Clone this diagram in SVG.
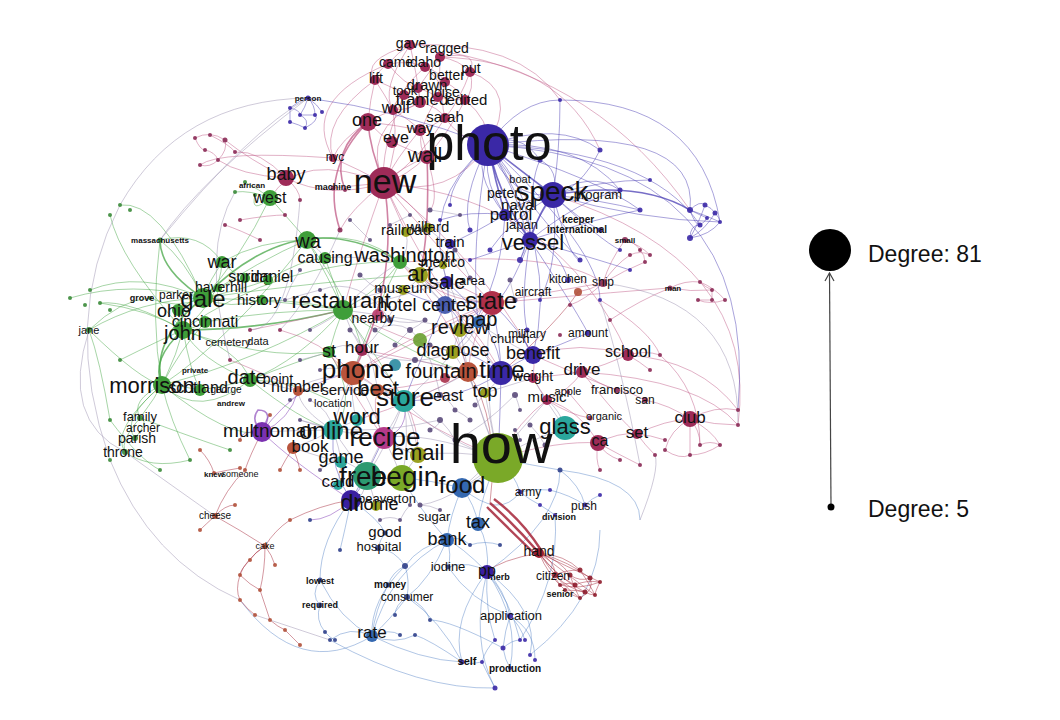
<svg xmlns="http://www.w3.org/2000/svg" width="1060" height="720" viewBox="0 0 1060 720">
<defs>
<style>
.e path{fill:none;stroke-width:.8;stroke-opacity:.6}
.eg{stroke:#46a646}.ep{stroke:#c05a86}.eb{stroke:#4a3db4}.es{stroke:#5b86c8}.er{stroke:#a52538}.ex{stroke:#9a8fae}.ev{stroke:#7b31b0}
.e path.w{stroke-width:1.6;stroke-opacity:.75}
.e path.thick{stroke-width:2.4;stroke-opacity:.85}
.cP{fill:#9e2b58}.cB{fill:#3a28a6}.cG{fill:#3f9e3a}.cL{fill:#7aa928}.cT{fill:#2aa69c}.cO{fill:#b8543c}.cS{fill:#3468b0}.cV{fill:#7b31b0}.cR{fill:#9c1f30}.cY{fill:#9aa020}.cM{fill:#b43a8a}.cF{fill:#2c9a70}.cD{fill:#3a1fa0}
text{font-family:"Liberation Sans",Arial,sans-serif;fill:#111;text-anchor:middle}
.mn circle{opacity:.9}
.tl{font-weight:bold;fill:#222}
</style>
</defs>
<rect width="1060" height="720" fill="#ffffff"/>
<g id="connectors" class="e">
<g class="eg">
<path class="w" d="M203 298Q150 340 162 385"/><path class="w" d="M183 330Q150 360 162 385"/><path class="w" d="M203 298Q160 270 160 240"/><path class="w" d="M183 330Q260 330 343 310"/><path class="w" d="M203 298Q300 200 400 262"/>
<path d="M203 298Q140 300 89 330"/><path d="M183 330Q170 380 140 418"/><path d="M162 385Q130 400 140 418"/><path d="M162 385Q120 420 135 438"/><path d="M162 385Q110 430 125 452"/><path d="M162 385Q200 420 250 380"/><path d="M203 298Q240 260 270 198"/><path d="M203 298Q260 260 307 240"/><path d="M203 298Q230 280 245 278"/><path d="M203 298Q240 290 268 280"/><path d="M203 298Q230 310 262 300"/><path d="M203 298Q210 280 222 262"/><path d="M183 330Q220 300 222 262"/><path d="M183 330Q240 350 250 380"/><path d="M203 298Q280 300 343 310"/><path d="M205 322Q270 310 343 310"/><path d="M162 385Q260 360 343 310"/><path d="M250 380Q300 360 343 310"/><path d="M222 262Q260 240 307 240"/><path d="M222 262Q200 230 160 240"/><path d="M89 330Q120 300 150 298"/><path d="M89 330Q140 380 162 385"/><path d="M70 298Q130 280 203 298"/><path d="M90 290Q140 270 203 298"/><path d="M100 303Q150 310 183 330"/><path d="M125 452Q150 470 190 460"/><path d="M140 418Q200 440 230 450"/><path d="M162 385Q230 340 307 240"/><path d="M183 330Q280 260 400 262"/><path d="M203 298Q330 280 420 275"/><path d="M150 298Q175 310 203 298"/><path d="M120 360Q160 340 183 330"/><path d="M110 420Q140 460 160 470"/><path d="M140 418Q120 440 125 452"/><path d="M135 438Q150 420 140 418"/><path d="M89 330Q100 360 110 420"/><path d="M162 385Q150 320 160 240"/><path d="M307 240Q330 280 343 310"/><path d="M307 240Q360 230 400 262"/><path d="M400 262Q380 290 343 310"/><path d="M250 380Q290 380 330 400"/><path d="M250 380Q300 420 333 430"/><path d="M178 310Q190 300 203 298"/><path d="M205 322Q190 330 183 330"/><path d="M200 390Q180 385 162 385"/><path d="M200 390Q230 385 250 380"/><path d="M183 330Q190 370 200 390"/><path d="M270 198Q250 190 235 192"/><path d="M270 198Q250 215 255 195"/><path d="M270 198Q285 215 307 240"/><path d="M245 182Q260 190 270 198"/><path d="M222 262Q235 275 245 278"/><path d="M245 278Q258 285 268 280"/><path d="M262 300Q300 300 343 310"/><path d="M268 280Q300 260 325 258"/><path d="M325 258Q335 285 343 310"/><path d="M329 352Q335 330 343 310"/><path d="M329 352Q300 360 250 380"/><path d="M183 330Q260 360 329 352"/><path d="M162 385Q230 440 262 432"/><path d="M203 298Q160 200 120 205"/><path d="M183 330Q120 260 110 215"/><path d="M218 288Q210 292 203 298"/><path d="M162 385Q170 420 190 460"/><path d="M183 330Q130 300 100 303"/><path d="M203 298Q185 260 160 240"/><path d="M162 385Q180 350 205 322"/><path d="M183 330Q200 360 250 380"/>
<path d="M343 310Q380 360 404 401"/><path d="M400 262Q370 320 353 373"/><path d="M329 352Q360 400 333 430"/><path d="M307 240Q350 300 362 350"/><path d="M343 310Q420 360 468 372"/>
</g>
<g class="ep">
<path class="w" d="M368 122Q330 150 345 190"/><path class="w" d="M368 122Q320 170 340 230"/><path class="w" d="M427 157Q430 230 420 275"/><path class="w" d="M384 183Q400 280 353 373"/><path class="w" d="M368 122Q370 150 384 183"/>
<path d="M410 45Q428 40 440 57"/><path d="M410 45Q398 52 388 64"/><path d="M410 45Q418 80 420 102"/><path d="M440 57Q460 60 470 72"/><path d="M440 57Q440 80 438 97"/><path d="M388 64Q378 70 375 80"/><path d="M388 64Q410 60 425 67"/><path d="M425 67Q440 72 445 82"/><path d="M375 80Q385 95 393 110"/><path d="M375 80Q400 90 420 102"/><path d="M445 82Q460 90 465 100"/><path d="M470 72Q475 90 465 100"/><path d="M418 88Q410 92 404 95"/><path d="M418 88Q430 92 438 97"/><path d="M404 95Q395 100 393 110"/><path d="M420 102Q440 108 445 118"/><path d="M393 110Q380 115 368 122"/><path d="M368 122Q380 135 392 142"/><path d="M368 122Q395 125 420 130"/><path d="M420 130Q425 145 427 157"/><path d="M392 142Q410 150 427 157"/><path d="M427 157Q400 168 384 183"/><path d="M445 118Q460 140 488 145"/><path d="M465 100Q490 120 488 145"/><path d="M470 72Q520 90 488 145"/><path d="M410 45Q520 40 560 100"/><path d="M440 57Q560 60 600 150"/><path d="M388 64Q300 100 333 158"/><path d="M375 80Q320 120 333 158"/><path d="M420 102Q360 130 384 183"/><path d="M438 97Q410 140 427 157"/><path d="M393 110Q400 150 384 183"/><path d="M420 130Q395 160 384 183"/><path d="M445 118Q420 160 384 183"/><path d="M465 100Q430 170 384 183"/><path d="M404 95Q380 150 384 183"/><path d="M410 45Q380 90 393 110"/><path d="M425 67Q400 90 404 95"/><path d="M440 57Q420 85 418 88"/><path d="M388 64Q405 85 418 88"/><path d="M375 80Q370 100 368 122"/><path d="M445 82Q440 100 445 118"/><path d="M470 72Q460 100 445 118"/><path d="M425 67Q450 90 438 97"/><path d="M418 88Q420 100 420 102"/><path d="M393 110Q410 120 420 130"/><path d="M420 102Q410 110 393 110"/><path d="M445 118Q435 125 420 130"/><path d="M438 97Q450 100 465 100"/><path d="M410 45Q360 60 375 80"/><path d="M440 57Q480 50 470 72"/><path d="M333 158Q360 170 384 183"/><path d="M333 188Q360 185 384 183"/><path d="M384 183Q360 250 343 310"/><path d="M384 183Q430 240 492 303"/><path d="M384 183Q330 200 286 178"/><path d="M384 183Q300 150 270 198"/><path d="M384 183Q450 200 488 145"/><path d="M384 183Q440 300 501 373"/><path d="M384 183Q480 260 533 355"/><path d="M384 183Q560 200 628 355"/><path d="M384 183Q350 210 340 230"/><path d="M384 183Q420 210 428 228"/><path d="M384 183Q400 220 406 232"/><path d="M427 157Q440 200 430 210"/><path d="M368 122Q340 140 333 158"/><path d="M286 178Q250 160 225 140"/><path d="M286 178Q240 175 218 160"/><path d="M286 178Q260 150 235 152"/><path d="M286 178Q300 190 300 200"/><path d="M195 138Q210 130 225 140"/><path d="M195 138Q200 150 205 150"/><path d="M205 150Q215 152 218 160"/><path d="M218 160Q210 168 200 165"/><path d="M210 135Q230 145 235 152"/><path d="M225 140Q228 150 218 160"/><path d="M333 158Q220 150 200 165"/><path d="M240 220Q270 215 285 215"/><path d="M225 225Q240 230 260 240"/><path d="M250 330Q300 320 343 310"/><path d="M280 330Q320 340 353 373"/><path d="M230 360Q280 380 298 391"/><path d="M492 303Q470 340 468 372"/><path d="M492 303Q420 330 353 373"/><path d="M492 303Q440 300 420 275"/><path d="M492 303Q460 285 447 282"/><path d="M492 303Q480 312 478 322"/><path d="M492 303Q470 315 460 330"/><path d="M468 372Q430 385 378 390"/><path d="M468 372Q420 360 362 350"/><path d="M378 390Q370 380 353 373"/><path d="M384 438Q370 410 378 390"/><path d="M353 373Q330 360 329 352"/><path d="M362 350Q358 360 353 373"/><path d="M533 355Q580 340 628 355"/><path d="M628 355Q645 350 660 355"/><path d="M628 355Q640 362 650 370"/><path d="M628 355Q605 365 582 372"/><path d="M582 372Q600 385 617 390"/><path d="M617 390Q632 392 645 400"/><path d="M645 400Q670 405 690 419"/><path d="M690 419Q715 405 738 410"/><path d="M690 419Q715 425 738 425"/><path d="M690 419Q700 430 700 445"/><path d="M690 419Q712 430 720 445"/><path d="M690 419Q670 430 665 450"/><path d="M690 419Q690 440 690 455"/><path d="M700 445Q710 440 720 445"/><path d="M665 450Q680 460 690 455"/><path d="M690 455Q705 455 720 445"/><path d="M637 434Q618 432 598 443"/><path d="M637 434Q650 435 665 440"/><path d="M637 434Q645 445 655 455"/><path d="M637 434Q665 420 690 419"/><path d="M598 443Q605 455 620 460"/><path d="M598 443Q595 460 600 470"/><path d="M598 443Q620 455 640 465"/><path d="M628 355Q700 360 738 410"/><path d="M582 372Q700 380 738 425"/><path d="M603 283Q610 260 625 240"/><path d="M625 240Q635 242 640 250"/><path d="M625 240Q640 245 650 255"/><path d="M640 250Q645 255 645 262"/><path d="M630 255Q640 250 650 255"/><path d="M603 283Q615 265 630 255"/><path d="M603 283Q625 270 645 262"/><path d="M603 283Q590 290 578 292"/><path d="M603 283Q585 300 570 305"/><path d="M670 288Q685 280 700 282"/><path d="M670 288Q690 292 712 290"/><path d="M700 282Q705 287 712 290"/><path d="M712 290Q712 295 712 300"/><path d="M698 300Q705 300 712 300"/><path d="M698 300Q710 305 725 300"/><path d="M700 282Q715 288 725 300"/><path d="M670 288Q640 300 610 320"/><path d="M405 262Q560 250 603 283"/><path d="M492 303Q560 290 603 283"/><path d="M492 303Q640 290 670 288"/><path d="M533 378Q540 390 547 400"/><path d="M547 400Q570 390 582 372"/><path d="M547 400Q580 410 598 443"/><path d="M533 378Q560 375 582 372"/><path d="M533 355Q535 365 533 378"/><path d="M547 400Q570 415 590 418"/><path d="M568 392Q575 400 590 418"/><path d="M498 458Q560 440 598 443"/><path d="M501 373Q515 375 533 378"/><path d="M547 400Q520 420 498 458"/><path d="M533 355Q590 380 617 390"/><path d="M582 372Q620 420 637 434"/><path d="M660 355Q700 390 700 445"/><path d="M553 195Q760 260 738 425"/><path d="M447 52Q600 80 690 210"/><path d="M600 300Q650 330 660 355"/>
<path d="M343 310Q400 340 453 352"/><path d="M362 350Q420 400 418 455"/><path d="M378 390Q430 430 498 458"/><path d="M353 373Q420 340 492 303"/><path d="M400 262Q460 330 468 372"/><path d="M420 275Q480 330 501 373"/><path d="M329 352Q370 420 384 438"/><path d="M357 420Q420 400 468 372"/>
</g>
<g class="eb">
<path class="w" d="M488 145Q520 170 553 195"/><path class="w" d="M488 145Q500 200 530 240"/><path class="w" d="M553 195Q540 210 530 240"/><path class="w" d="M553 195Q640 180 690 210"/><path class="w" d="M488 145Q495 180 505 215"/>
<path d="M488 145Q560 120 600 150"/><path d="M488 145Q580 140 620 190"/><path d="M488 145Q600 180 640 210"/><path d="M488 145Q540 220 580 260"/><path d="M488 145Q460 200 470 230"/><path d="M488 145Q450 180 450 205"/><path d="M488 145Q520 100 560 100"/><path d="M488 145Q650 150 700 225"/><path d="M488 145Q420 200 447 282"/><path d="M488 145Q560 250 533 355"/><path d="M488 145Q600 250 600 300"/><path d="M488 145Q540 230 520 260"/><path d="M488 145Q470 250 478 322"/><path d="M488 145Q400 110 308 98"/><path d="M488 145Q520 130 540 160"/><path d="M553 195Q640 220 720 222"/><path d="M553 195Q600 240 620 250"/><path d="M553 195Q580 220 600 230"/><path d="M553 195Q570 260 580 260"/><path d="M553 195Q530 230 520 260"/><path d="M553 195Q510 220 490 250"/><path d="M553 195Q560 260 540 300"/><path d="M553 195Q600 180 650 180"/><path d="M553 195Q520 200 505 215"/><path d="M530 240Q560 250 568 280"/><path d="M530 240Q500 250 470 260"/><path d="M530 240Q520 300 527 330"/><path d="M530 240Q570 300 588 333"/><path d="M530 240Q600 260 630 270"/><path d="M505 215Q480 230 450 244"/><path d="M505 215Q470 210 440 220"/><path d="M488 145Q700 120 690 210"/><path d="M553 195Q560 170 540 160"/><path d="M540 160Q530 180 530 240"/><path d="M505 215Q520 220 530 240"/><path d="M620 190Q580 200 530 240"/><path d="M640 210Q590 220 530 240"/><path d="M600 150Q580 190 553 195"/><path d="M560 100Q560 150 553 195"/><path d="M488 145Q530 190 530 240"/><path d="M488 145Q510 200 553 195"/><path d="M488 145Q470 170 505 215"/><path d="M553 195Q600 200 640 210"/><path d="M553 195Q590 170 620 190"/><path d="M530 240Q480 200 488 145"/>
<path d="M690 210Q700 200 705 205"/><path d="M705 205Q712 208 715 213"/><path d="M715 213Q720 218 720 222"/><path d="M690 210Q695 225 700 225"/><path d="M700 225Q705 222 707 218"/><path d="M690 238Q690 225 700 225"/><path d="M690 238Q705 230 715 213"/><path d="M690 238Q700 220 705 205"/><path d="M690 210Q705 215 720 222"/><path d="M690 210Q700 215 707 218"/><path d="M690 238Q710 235 720 222"/>
<path d="M308 98Q300 100 290 108"/><path d="M308 98Q305 108 300 115"/><path d="M308 98Q315 105 315 115"/><path d="M308 98Q318 105 322 112"/><path d="M290 108Q290 115 290 122"/><path d="M300 115Q310 120 305 128"/><path d="M315 115Q320 120 305 128"/><path d="M290 122Q300 125 305 128"/><path d="M290 108Q300 110 300 115"/><path d="M300 115Q308 115 315 115"/>
<path d="M533 355Q520 340 527 330"/><path d="M533 355Q560 345 588 333"/><path d="M501 373Q520 360 533 355"/><path d="M501 373Q480 380 468 372"/><path d="M501 373Q470 350 453 352"/><path d="M501 373Q500 340 492 303"/><path d="M501 373Q460 400 404 401"/><path d="M501 373Q500 420 498 458"/><path d="M447 282Q450 300 445 305"/><path d="M445 305Q460 315 460 330"/><path d="M445 305Q470 300 492 303"/><path d="M445 305Q420 300 403 290"/><path d="M351 500Q330 470 333 430"/><path d="M351 500Q370 470 384 438"/><path d="M351 500Q360 490 367 476"/><path d="M488 145Q760 160 738 410"/><path d="M560 100Q700 100 720 222"/>
<path d="M447 282Q500 330 501 373"/><path d="M445 305Q420 360 404 401"/><path d="M492 303Q520 330 533 355"/><path d="M460 330Q500 320 530 240"/><path d="M453 352Q500 300 505 215"/>
</g>
<g class="ev">
<path d="M262 432Q250 420 258 410Q275 410 262 432" style="stroke-width:1.6"/><path d="M262 432Q290 420 298 391"/><path d="M262 432Q300 380 353 373"/><path d="M262 432Q290 460 351 500"/><path d="M262 432Q240 430 240 440"/><path d="M262 432Q265 420 270 415"/><path d="M351 500Q330 520 310 520"/><path d="M384 438Q410 430 404 401"/>
</g>
<g class="es">
<path d="M462 488Q450 515 447 540"/><path d="M462 488Q475 505 478 524"/><path d="M447 540Q420 545 405 566"/><path d="M447 540Q452 555 448 567"/><path d="M447 540Q430 580 407 597"/><path d="M447 540Q390 570 372 636"/><path d="M405 566Q410 580 407 597"/><path d="M405 566Q370 600 372 636"/><path d="M407 597Q390 620 372 636"/><path d="M405 566Q392 572 388 585"/><path d="M388 585Q375 610 372 636"/><path d="M372 636Q390 628 400 635"/><path d="M372 636Q395 645 415 635"/><path d="M407 597Q425 605 430 620"/><path d="M407 597Q395 605 395 615"/><path d="M372 636Q350 625 330 640"/><path d="M320 580Q310 595 320 605"/><path d="M320 605Q315 620 325 632"/><path d="M325 632Q330 638 335 640"/><path d="M320 580Q340 620 372 636"/><path d="M351 500Q320 540 320 580"/><path d="M351 500Q345 530 340 550"/><path d="M378 548Q395 550 405 566"/><path d="M385 533Q380 540 378 548"/><path d="M478 524Q490 545 487 572"/><path d="M487 572Q505 590 510 616"/><path d="M487 572Q450 620 462 662"/><path d="M487 572Q520 620 510 668"/><path d="M487 572Q470 640 495 688"/><path d="M487 572Q540 610 530 655"/><path d="M487 572Q510 600 520 640"/><path d="M487 572Q485 610 495 640"/><path d="M510 616Q505 630 503 648"/><path d="M510 616Q520 625 525 640"/><path d="M510 616Q535 630 535 660"/><path d="M503 648Q512 640 520 640"/><path d="M462 662Q472 665 482 662"/><path d="M482 662Q488 675 495 688"/><path d="M503 648Q505 660 510 668"/><path d="M495 640Q485 650 482 662"/><path d="M448 567Q470 560 487 572"/><path d="M447 540Q460 535 470 545"/><path d="M470 545Q485 540 500 545"/><path d="M498 458Q515 475 520 492"/><path d="M520 492Q535 488 550 490"/><path d="M520 492Q530 500 540 505"/><path d="M585 505Q592 498 600 495"/><path d="M550 490Q570 495 585 505"/><path d="M555 515Q548 510 540 505"/><path d="M498 458Q530 465 560 470"/><path d="M560 470Q580 485 585 505"/><path d="M487 572Q560 520 560 470"/><path d="M487 572Q460 545 447 540"/><path d="M462 488Q500 470 498 458"/><path d="M462 488Q430 480 402 478"/><path d="M462 488Q500 520 520 492"/><path d="M330 640Q420 690 495 688"/><path d="M240 600Q300 680 372 636"/><path d="M462 662Q430 640 415 635"/><path d="M372 636Q420 660 462 662"/><path d="M351 500Q380 520 385 533"/><path d="M402 478Q420 510 447 540"/><path d="M498 458Q480 500 478 524"/><path d="M560 470Q640 480 640 520"/><path d="M530 655Q600 600 600 530"/><path d="M503 648Q450 620 430 620"/><path d="M510 616Q470 600 448 567"/><path d="M520 640Q560 580 555 515"/><path d="M407 597Q440 620 462 662"/>
</g>
<g class="er">
<path class="thick" d="M490 503Q515 525 539 553"/><path class="thick" d="M494 499Q522 520 541 550"/><path class="thick" d="M487 507Q512 532 537 556"/>
<path d="M539 553Q555 560 555 575"/><path d="M539 553Q560 560 570 575"/><path d="M539 553Q565 555 580 570"/><path d="M539 553Q570 562 590 578"/><path d="M539 553Q575 570 600 582"/><path d="M539 553Q555 575 575 585"/><path d="M539 553Q560 580 585 592"/><path d="M539 553Q548 575 565 590"/><path d="M539 553Q575 580 595 595"/><path d="M539 553Q560 585 580 598"/><path d="M555 575Q565 570 580 570"/><path d="M570 575Q580 582 590 578"/><path d="M575 585Q585 580 600 582"/><path d="M565 590Q575 590 585 592"/><path d="M585 592Q590 595 595 595"/><path d="M580 598Q570 595 565 590"/><path d="M560 585Q570 582 575 585"/><path d="M555 575Q556 580 560 585"/><path d="M580 570Q590 585 595 595"/><path d="M590 578Q595 590 580 598"/><path d="M600 582Q595 592 595 595"/><path d="M570 575Q575 590 580 598"/><path d="M555 575Q570 590 585 592"/><path d="M560 585Q580 590 600 582"/><path d="M539 553Q500 560 487 572"/>
<path d="M215 516Q240 530 265 546"/><path d="M215 516Q225 505 235 505"/><path d="M215 516Q205 525 200 530"/><path d="M265 546Q255 552 250 560"/><path d="M265 546Q272 555 275 565"/><path d="M265 546Q245 560 240 575"/><path d="M265 546Q265 570 260 590"/><path d="M240 600Q248 610 255 615"/><path d="M270 620Q278 627 285 630"/><path d="M285 630Q295 640 300 645"/><path d="M240 575Q250 585 260 590"/><path d="M260 590Q265 605 270 620"/><path d="M245 470Q225 490 215 516"/><path d="M351 500Q320 505 290 520"/><path d="M290 520Q275 530 265 546"/><path d="M293 448Q285 460 280 470"/><path d="M293 448Q298 460 300 470"/><path d="M214 473Q228 470 240 468"/><path d="M200 450Q210 460 214 473"/><path d="M262 432Q250 455 245 470"/><path d="M240 575Q235 590 240 600"/><path d="M250 560Q240 570 240 575"/><path d="M501 373Q560 320 578 292"/><path d="M468 372Q500 420 490 503"/>
</g>
<g class="ex">
<path d="M343 310Q370 280 400 262"/><path d="M343 310Q390 300 447 282"/><path d="M343 310Q350 330 362 350"/><path d="M343 310Q370 340 378 390"/><path d="M400 262Q430 290 445 305"/><path d="M420 275Q430 290 445 305"/><path d="M447 282Q460 300 460 330"/><path d="M460 330Q455 342 453 352"/><path d="M453 352Q460 365 468 372"/><path d="M453 352Q430 380 404 401"/><path d="M468 372Q440 390 404 401"/><path d="M404 401Q440 440 498 458"/><path d="M353 373Q380 390 404 401"/><path d="M353 373Q370 400 384 438"/><path d="M353 373Q340 400 333 430"/><path d="M353 373Q350 400 357 420"/><path d="M378 390Q390 390 404 401"/><path d="M404 401Q395 420 384 438"/><path d="M404 401Q415 430 418 455"/><path d="M404 401Q390 440 367 476"/><path d="M404 401Q410 440 402 478"/><path d="M384 438Q360 435 333 430"/><path d="M384 438Q400 450 418 455"/><path d="M384 438Q370 460 367 476"/><path d="M384 438Q395 460 402 478"/><path d="M333 430Q350 455 367 476"/><path d="M357 420Q345 425 333 430"/><path d="M367 476Q385 480 402 478"/><path d="M402 478Q410 465 418 455"/><path d="M418 455Q460 450 498 458"/><path d="M498 458Q480 470 462 488"/><path d="M498 458Q530 440 565 428"/><path d="M498 458Q490 420 485 393"/><path d="M498 458Q520 430 547 400"/><path d="M565 428Q560 410 547 400"/><path d="M565 428Q545 400 533 378"/><path d="M498 458Q480 380 492 303"/><path d="M498 458Q470 390 460 330"/><path d="M498 458Q450 330 447 282"/><path d="M498 458Q420 430 384 438"/><path d="M367 476Q365 500 351 500"/><path d="M367 476Q373 495 376 506"/><path d="M333 430Q340 450 341 462"/><path d="M341 462Q340 475 338 485"/><path d="M362 350Q385 330 403 290"/><path d="M329 352Q340 340 362 350"/><path d="M362 350Q410 370 453 352"/><path d="M343 310Q420 320 460 330"/><path d="M400 262Q450 300 492 303"/><path d="M403 290Q430 282 447 282"/><path d="M420 275Q415 285 403 290"/><path d="M343 310Q370 290 403 290"/><path d="M400 262Q410 250 406 232"/><path d="M406 232Q420 225 428 228"/><path d="M428 228Q440 240 450 244"/><path d="M450 244Q445 255 443 265"/><path d="M443 265Q445 275 447 282"/><path d="M420 275Q430 268 443 265"/><path d="M325 258Q350 255 400 262"/><path d="M307 240Q320 250 325 258"/><path d="M353 373Q300 380 298 391"/><path d="M298 391Q300 410 333 430"/><path d="M298 391Q330 390 378 390"/><path d="M262 432Q300 430 333 430"/><path d="M250 380Q275 385 298 391"/><path d="M293 448Q315 440 333 430"/><path d="M293 448Q330 460 341 462"/><path d="M485 393Q470 390 468 372"/><path d="M485 393Q500 380 501 373"/><path d="M485 393Q510 385 533 378"/><path d="M478 322Q500 340 533 355"/><path d="M478 322Q470 345 453 352"/><path d="M460 330Q480 350 501 373"/>
<path d="M310 330Q330 320 343 310"/><path d="M320 370Q340 365 353 373"/><path d="M300 360Q320 355 329 352"/><path d="M290 400Q300 395 298 391"/><path d="M310 400Q330 410 333 430"/><path d="M300 420Q320 425 333 430"/><path d="M320 470Q330 460 341 462"/><path d="M340 460Q355 465 367 476"/><path d="M350 330Q360 340 362 350"/><path d="M390 320Q410 325 425 320"/><path d="M395 345Q405 335 410 330"/><path d="M410 330Q420 325 425 320"/><path d="M430 345Q445 350 453 352"/><path d="M415 360Q440 365 468 372"/><path d="M440 395Q450 400 455 410"/><path d="M455 410Q465 415 470 420"/><path d="M440 420Q450 430 455 440"/><path d="M430 430Q440 425 440 420"/><path d="M475 405Q480 400 485 393"/><path d="M515 395Q518 402 520 410"/><path d="M530 425Q540 435 545 445"/><path d="M515 430Q520 435 520 440"/><path d="M540 460Q550 450 545 445"/><path d="M420 505Q430 505 440 510"/><path d="M400 520Q405 510 410 505"/><path d="M380 520Q390 515 400 520"/><path d="M455 250Q465 265 470 278"/><path d="M510 280Q512 290 515 300"/><path d="M390 225Q400 220 410 215"/><path d="M430 210Q445 212 460 215"/><path d="M350 220Q360 230 370 240"/><path d="M360 275Q370 285 380 290"/><path d="M300 270Q290 285 285 300"/><path d="M285 300Q300 295 320 290"/><path d="M375 330Q395 320 410 330"/><path d="M410 330Q430 345 440 395"/><path d="M320 290Q360 275 390 320"/><path d="M300 420Q350 440 440 420"/><path d="M515 395Q480 430 455 440"/><path d="M420 505Q460 500 520 440"/>
<path d="M308 98Q200 180 160 240"/><path d="M308 98Q180 100 120 205"/><path d="M120 205Q60 320 110 460"/><path d="M110 460Q150 560 240 600"/><path d="M603 283Q740 300 738 425"/><path d="M160 240Q250 130 308 98"/><path d="M89 330Q60 420 125 452"/><path d="M215 516Q150 470 125 452"/><path d="M330 640Q270 620 255 615"/><path d="M300 200Q290 330 250 330"/><path d="M235 192Q200 250 230 360"/><path d="M340 230Q310 300 280 330"/><path d="M600 300Q620 360 640 465"/><path d="M640 520Q660 470 655 455"/>
</g>
</g>
<g id="minor-nodes" class="mn">
<g fill="#3a28a6">
<circle cx="308" cy="98" r="2.5"/><circle cx="290" cy="108" r="2"/><circle cx="300" cy="115" r="2"/><circle cx="315" cy="115" r="2"/><circle cx="322" cy="112" r="2"/><circle cx="290" cy="122" r="2"/><circle cx="305" cy="128" r="2"/>
<circle cx="540" cy="160" r="2.5"/><circle cx="560" cy="100" r="2"/><circle cx="600" cy="150" r="2.5"/><circle cx="620" cy="190" r="2.5"/><circle cx="640" cy="210" r="2.5"/><circle cx="650" cy="180" r="2"/><circle cx="600" cy="230" r="2.5"/><circle cx="620" cy="250" r="2"/><circle cx="580" cy="260" r="2.5"/><circle cx="520" cy="260" r="3"/><circle cx="490" cy="250" r="2.5"/><circle cx="540" cy="300" r="2"/><circle cx="600" cy="300" r="2"/><circle cx="470" cy="230" r="2.5"/><circle cx="450" cy="205" r="2"/><circle cx="440" cy="220" r="2"/><circle cx="470" cy="260" r="2"/><circle cx="630" cy="270" r="2"/><circle cx="568" cy="280" r="3"/><circle cx="527" cy="330" r="2.5"/><circle cx="588" cy="333" r="3"/>
<circle cx="690" cy="210" r="3"/><circle cx="705" cy="205" r="2.5"/><circle cx="715" cy="213" r="2.5"/><circle cx="720" cy="222" r="2"/><circle cx="700" cy="225" r="2.5"/><circle cx="707" cy="218" r="2"/><circle cx="690" cy="238" r="3"/>
<circle cx="503" cy="648" r="2.5"/><circle cx="525" cy="640" r="2"/><circle cx="535" cy="660" r="2"/><circle cx="520" cy="640" r="2"/><circle cx="495" cy="640" r="2"/><circle cx="482" cy="662" r="2"/><circle cx="462" cy="662" r="2.5"/><circle cx="510" cy="668" r="2"/><circle cx="495" cy="688" r="2.5"/><circle cx="530" cy="655" r="2"/><circle cx="510" cy="616" r="3"/><circle cx="520" cy="492" r="2.5"/><circle cx="550" cy="490" r="2"/><circle cx="540" cy="505" r="2"/><circle cx="585" cy="505" r="2.5"/><circle cx="600" cy="495" r="2"/><circle cx="555" cy="515" r="2"/>
</g>
<g fill="#2f3f8a">
<circle cx="560" cy="470" r="2.5"/><circle cx="470" cy="545" r="2"/><circle cx="500" cy="545" r="2"/><circle cx="448" cy="567" r="2.5"/><circle cx="400" cy="635" r="2"/><circle cx="415" cy="635" r="2"/><circle cx="430" cy="620" r="2"/><circle cx="395" cy="615" r="2"/><circle cx="330" cy="640" r="2"/><circle cx="320" cy="580" r="2.5"/><circle cx="320" cy="605" r="2.5"/><circle cx="325" cy="632" r="2"/><circle cx="335" cy="640" r="2"/><circle cx="310" cy="520" r="2"/><circle cx="340" cy="550" r="2"/><circle cx="388" cy="585" r="2.5"/><circle cx="405" cy="566" r="3"/><circle cx="407" cy="597" r="3"/><circle cx="378" cy="548" r="3"/><circle cx="385" cy="533" r="2.5"/>
</g>
<g fill="#3a8a38">
<circle cx="160" cy="240" r="2.5"/><circle cx="150" cy="298" r="2"/><circle cx="89" cy="330" r="3"/><circle cx="70" cy="298" r="2"/><circle cx="85" cy="305" r="2"/><circle cx="100" cy="303" r="2"/><circle cx="110" cy="310" r="2"/><circle cx="90" cy="290" r="2"/><circle cx="120" cy="360" r="2"/><circle cx="110" cy="420" r="2"/><circle cx="125" cy="452" r="3"/><circle cx="135" cy="438" r="3"/><circle cx="140" cy="418" r="3"/><circle cx="160" cy="470" r="2"/><circle cx="190" cy="460" r="2"/><circle cx="230" cy="450" r="2"/><circle cx="245" cy="182" r="2"/><circle cx="255" cy="195" r="2"/><circle cx="235" cy="192" r="2"/><circle cx="110" cy="215" r="2"/><circle cx="120" cy="205" r="2"/><circle cx="130" cy="210" r="2"/><circle cx="110" cy="460" r="2"/>
</g>
<g fill="#8a2a55">
<circle cx="195" cy="138" r="2"/><circle cx="210" cy="135" r="2"/><circle cx="225" cy="140" r="2.5"/><circle cx="205" cy="150" r="2"/><circle cx="218" cy="160" r="2"/><circle cx="200" cy="165" r="2"/><circle cx="235" cy="152" r="2"/><circle cx="225" cy="225" r="2"/><circle cx="240" cy="220" r="2"/><circle cx="260" cy="240" r="2"/><circle cx="285" cy="215" r="2"/><circle cx="300" cy="200" r="2"/><circle cx="333" cy="188" r="2.5"/><circle cx="345" cy="190" r="2"/><circle cx="340" cy="230" r="2.5"/><circle cx="250" cy="330" r="2"/><circle cx="280" cy="330" r="2"/><circle cx="230" cy="360" r="2"/>
<circle cx="625" cy="240" r="3"/><circle cx="640" cy="250" r="2"/><circle cx="650" cy="255" r="2"/><circle cx="645" cy="262" r="2"/><circle cx="630" cy="255" r="2"/><circle cx="603" cy="283" r="4"/><circle cx="670" cy="288" r="2.5"/><circle cx="700" cy="282" r="2"/><circle cx="712" cy="290" r="2"/><circle cx="712" cy="300" r="2"/><circle cx="698" cy="300" r="2"/><circle cx="725" cy="300" r="2"/><circle cx="610" cy="320" r="2"/><circle cx="660" cy="355" r="2"/><circle cx="650" cy="370" r="2"/><circle cx="738" cy="410" r="2"/><circle cx="738" cy="425" r="2"/><circle cx="700" cy="445" r="2"/><circle cx="720" cy="445" r="2"/><circle cx="665" cy="450" r="2"/><circle cx="690" cy="455" r="2"/><circle cx="655" cy="455" r="2"/><circle cx="665" cy="440" r="2"/><circle cx="620" cy="460" r="2"/><circle cx="600" cy="470" r="2"/><circle cx="640" cy="465" r="2"/><circle cx="570" cy="305" r="2"/><circle cx="560" cy="335" r="2"/><circle cx="590" cy="418" r="2.5"/><circle cx="568" cy="392" r="2"/><circle cx="617" cy="390" r="3"/><circle cx="645" cy="400" r="3"/>
</g>
<g fill="#b0503a">
<circle cx="578" cy="292" r="4"/><circle cx="240" cy="440" r="2"/><circle cx="270" cy="415" r="2"/><circle cx="235" cy="505" r="2"/><circle cx="200" cy="530" r="2"/><circle cx="215" cy="516" r="3"/><circle cx="265" cy="546" r="3"/><circle cx="250" cy="560" r="2"/><circle cx="275" cy="565" r="2"/><circle cx="240" cy="575" r="2"/><circle cx="260" cy="590" r="2"/><circle cx="240" cy="600" r="2"/><circle cx="255" cy="615" r="2"/><circle cx="270" cy="620" r="2"/><circle cx="285" cy="630" r="2"/><circle cx="300" cy="645" r="2"/><circle cx="245" cy="470" r="2"/><circle cx="290" cy="520" r="2"/><circle cx="280" cy="470" r="2"/><circle cx="300" cy="470" r="2"/><circle cx="214" cy="473" r="2"/><circle cx="240" cy="468" r="2"/><circle cx="200" cy="450" r="2"/>
</g>
<g fill="#8e1c2c">
<circle cx="555" cy="575" r="3"/><circle cx="570" cy="575" r="2.5"/><circle cx="580" cy="570" r="2.5"/><circle cx="590" cy="578" r="2.5"/><circle cx="600" cy="582" r="2"/><circle cx="575" cy="585" r="2.5"/><circle cx="585" cy="592" r="2.5"/><circle cx="565" cy="590" r="2"/><circle cx="595" cy="595" r="2"/><circle cx="580" cy="598" r="2"/><circle cx="560" cy="585" r="2"/>
</g>
<g fill="#5a4a7a">
<circle cx="310" cy="330" r="2"/><circle cx="320" cy="370" r="2"/><circle cx="300" cy="360" r="2"/><circle cx="290" cy="400" r="2"/><circle cx="310" cy="400" r="2"/><circle cx="300" cy="420" r="2"/><circle cx="320" cy="470" r="2"/><circle cx="340" cy="460" r="2"/><circle cx="350" cy="330" r="2.5"/><circle cx="375" cy="330" r="2.5"/><circle cx="390" cy="320" r="3"/><circle cx="395" cy="345" r="2.5"/><circle cx="410" cy="330" r="3"/><circle cx="425" cy="320" r="2.5"/><circle cx="430" cy="345" r="2.5"/><circle cx="415" cy="360" r="3"/><circle cx="440" cy="395" r="3"/><circle cx="455" cy="410" r="2.5"/><circle cx="470" cy="420" r="2.5"/><circle cx="440" cy="420" r="3"/><circle cx="430" cy="430" r="2.5"/><circle cx="455" cy="440" r="2.5"/><circle cx="475" cy="405" r="2.5"/><circle cx="515" cy="395" r="3"/><circle cx="520" cy="410" r="2"/><circle cx="530" cy="425" r="2.5"/><circle cx="515" cy="430" r="2"/><circle cx="545" cy="445" r="2.5"/><circle cx="540" cy="460" r="2"/><circle cx="520" cy="440" r="2"/><circle cx="420" cy="505" r="2.5"/><circle cx="440" cy="510" r="2"/><circle cx="400" cy="520" r="2"/><circle cx="410" cy="505" r="2"/><circle cx="380" cy="520" r="2"/><circle cx="455" cy="250" r="2.5"/><circle cx="470" cy="278" r="2.5"/><circle cx="510" cy="280" r="2.5"/><circle cx="515" cy="300" r="2.5"/><circle cx="390" cy="225" r="2"/><circle cx="410" cy="215" r="2"/><circle cx="430" cy="210" r="2.5"/><circle cx="460" cy="215" r="2"/><circle cx="350" cy="220" r="2"/><circle cx="370" cy="240" r="2"/><circle cx="360" cy="275" r="2.5"/><circle cx="380" cy="290" r="2.5"/><circle cx="300" cy="270" r="2"/><circle cx="285" cy="300" r="2"/><circle cx="320" cy="290" r="2"/><circle cx="445" cy="305" r="9" fill="#3a50a8"/><circle cx="378" cy="315" r="6" fill="#b83a6a"/><circle cx="420" cy="340" r="7" fill="#6aa030"/><circle cx="395" cy="365" r="6" fill="#2a8aa0"/><circle cx="445" cy="378" r="5" fill="#a8304a"/>
</g>
<g font-size="8" class="tl">
<text x="160" y="243">massachusetts</text><text x="89" y="334" font-size="11" font-weight="normal">jane</text><text x="142" y="301" font-size="9">grove</text><text x="176" y="299" font-size="12" font-weight="normal">parker</text><text x="140" y="421" font-size="13" font-weight="normal">family</text><text x="143" y="432" font-size="12" font-weight="normal">archer</text><text x="137" y="443" font-size="14" font-weight="normal">parish</text><text x="123" y="457" font-size="14" font-weight="normal">throne</text><text x="195" y="373">private</text><text x="226" y="393" font-size="10" font-weight="normal">george</text><text x="231" y="406">andrew</text><text x="228" y="346" font-size="11" font-weight="normal">cemetery</text><text x="258" y="345" font-size="11" font-weight="normal">data</text><text x="308" y="101">person</text><text x="252" y="188">african</text><text x="333" y="190" font-size="9">machine</text><text x="625" y="243">small</text><text x="673" y="291">man</text><text x="577" y="233" font-size="10">international</text><text x="578" y="223" font-size="10">keeper</text><text x="598" y="199" font-size="13" font-weight="normal">program</text><text x="568" y="283" font-size="12" font-weight="normal">kitchen</text><text x="533" y="296" font-size="12" font-weight="normal">aircraft</text><text x="527" y="338" font-size="12" font-weight="normal">military</text><text x="588" y="337" font-size="12" font-weight="normal">amount</text><text x="603" y="286" font-size="12" font-weight="normal">ship</text><text x="604" y="420" font-size="11" font-weight="normal">organic</text><text x="568" y="395" font-size="11" font-weight="normal">apple</text><text x="617" y="394" font-size="13" font-weight="normal">francisco</text><text x="645" y="404" font-size="12" font-weight="normal">san</text><text x="448" y="571" font-size="13" font-weight="normal">iodine</text><text x="390" y="588" font-size="10">money</text><text x="407" y="601" font-size="12" font-weight="normal">consumer</text><text x="511" y="620" font-size="13" font-weight="normal">application</text><text x="467" y="665" font-size="11">self</text><text x="515" y="672" font-size="10">production</text><text x="528" y="496" font-size="12" font-weight="normal">army</text><text x="584" y="510" font-size="12" font-weight="normal">push</text><text x="559" y="520" font-size="9">division</text><text x="553" y="580" font-size="12" font-weight="normal">citizen</text><text x="560" y="597" font-size="9">senior</text><text x="320" y="584" font-size="9">lowest</text><text x="320" y="608" font-size="9">required</text><text x="215" y="519" font-size="10" font-weight="normal">cheese</text><text x="265" y="549" font-size="9" font-weight="normal">cake</text><text x="379" y="551" font-size="13" font-weight="normal">hospital</text><text x="385" y="537" font-size="15" font-weight="normal">good</text><text x="434" y="521" font-size="13" font-weight="normal">sugar</text><text x="387" y="503" font-size="13" font-weight="normal">beaverton</text><text x="214" y="477">knew</text><text x="240" y="477" font-size="9" font-weight="normal">someone</text><text x="373" y="323" font-size="14" font-weight="normal">nearby</text><text x="397" y="311" font-size="18" font-weight="normal">hotel</text><text x="447" y="311" font-size="18" font-weight="normal">center</text><text x="510" y="343" font-size="13" font-weight="normal">church</text><text x="448" y="401" font-size="16" font-weight="normal">east</text><text x="522" y="229" font-size="13" font-weight="normal">japan</text><text x="472" y="285" font-size="13" font-weight="normal">area</text><text x="503" y="198" font-size="14" font-weight="normal">peter</text><text x="519" y="210" font-size="15" font-weight="normal">naval</text><text x="520" y="183" font-size="11" font-weight="normal">boat</text><text x="500" y="580" font-size="9">herb</text><text x="278" y="384" font-size="14" font-weight="normal">point</text><text x="345" y="395" font-size="15" font-weight="normal">service</text><text x="333" y="407" font-size="11" font-weight="normal">location</text>
</g>
</g>
<g id="nodes">
<g id="n-photo"><circle cx="488" cy="145" r="21" class="cB"/><text x="489" y="160" font-size="50">photo</text></g>
<g id="n-how"><circle cx="498" cy="458" r="25" class="cL"/><text x="501" y="463" font-size="56">how</text></g>
<g id="n-new"><circle cx="384" cy="183" r="16" class="cP"/><text x="385" y="193" font-size="34">new</text></g>
<g id="n-speck"><circle cx="553" cy="195" r="13" class="cB"/><text x="552" y="201" font-size="28">speck</text></g>
<g id="n-free"><circle cx="367" cy="476" r="14" class="cF"/><text x="363" y="486" font-size="28">free</text></g>
<g id="n-begin"><circle cx="402" cy="478" r="13" class="cL"/><text x="405" y="486" font-size="28">begin</text></g>
<g id="n-state"><circle cx="492" cy="303" r="12" fill="#b0304a"/><text x="491" y="309" font-size="24">state</text></g>
<g id="n-phone"><circle cx="353" cy="373" r="12" class="cO"/><text x="358" y="378" font-size="26">phone</text></g>
<g id="n-time"><circle cx="501" cy="373" r="12" class="cB"/><text x="502" y="378" font-size="24">time</text></g>
<g id="n-glass"><circle cx="565" cy="428" r="12" class="cT"/><text x="565" y="434" font-size="22">glass</text></g>
<g id="n-store"><circle cx="404" cy="401" r="11" class="cT"/><text x="405" y="406" font-size="26">store</text></g>
<g id="n-recipe"><circle cx="384" cy="438" r="11" class="cM"/><text x="385" y="446" font-size="26">recipe</text></g>
<g id="n-online"><circle cx="333" cy="430" r="10" class="cT"/><text x="331" y="439" font-size="24">online</text></g>
<g id="n-restaurant"><circle cx="343" cy="310" r="10" class="cG"/><text x="341" y="308" font-size="22">restaurant</text></g>
<g id="n-food"><circle cx="462" cy="488" r="10" class="cS"/><text x="462" y="493" font-size="24">food</text></g>
<g id="n-fountain"><circle cx="468" cy="372" r="10" class="cO"/><text x="441" y="378" font-size="20">fountain</text></g>
<g id="n-multnomah"><circle cx="262" cy="432" r="10" class="cV"/><text x="270" y="437" font-size="19">multnomah</text></g>
<g id="n-gale"><circle cx="203" cy="298" r="10" class="cG"/><text x="203" y="307" font-size="24">gale</text></g>
<g id="n-dr"><circle cx="351" cy="500" r="10" class="cD"/><text x="351" y="511" font-size="24">dr</text></g>
<g id="n-morrison"><circle cx="162" cy="385" r="9" class="cG"/><text x="152" y="393" font-size="22">morrison</text></g>
<g id="n-john"><circle cx="183" cy="330" r="9" class="cG"/><text x="183" y="340" font-size="20">john</text></g>
<g id="n-one"><circle cx="368" cy="122" r="9" class="cP"/><text x="367" y="126" font-size="18">one</text></g>
<g id="n-benefit"><circle cx="533" cy="355" r="9" class="cB"/><text x="533" y="359" font-size="18">benefit</text></g>
<g id="n-wa"><circle cx="307" cy="240" r="9" class="cG"/><text x="308" y="248" font-size="20">wa</text></g>
<g id="n-vessel"><circle cx="530" cy="240" r="8" class="cB"/><text x="533" y="250" font-size="22">vessel</text></g>
<g id="n-email"><circle cx="418" cy="455" r="8" class="cY"/><text x="418" y="460" font-size="22">email</text></g>
<g id="n-art"><circle cx="420" cy="275" r="8" class="cY"/><text x="420" y="281" font-size="22">art</text></g>
<g id="n-club"><circle cx="690" cy="419" r="8" class="cP"/><text x="690" y="423" font-size="17">club</text></g>
<g id="n-ca"><circle cx="598" cy="443" r="8" class="cP"/><text x="600" y="446" font-size="16">ca</text></g>
<g id="n-baby"><circle cx="286" cy="178" r="8" class="cP"/><text x="286" y="180" font-size="18">baby</text></g>
<g id="n-west"><circle cx="270" cy="198" r="8" class="cG"/><text x="270" y="203" font-size="16">west</text></g>
<g id="n-washington"><circle cx="400" cy="262" r="7" class="cG"/><text x="405" y="262" font-size="20">washington</text></g>
<g id="n-wall"><circle cx="427" cy="157" r="7" class="cP"/><text x="425" y="162" font-size="20">wall</text></g>
<g id="n-review"><circle cx="460" cy="330" r="7" class="cY"/><text x="460" y="334" font-size="20">review</text></g>
<g id="n-diagnose"><circle cx="453" cy="352" r="7" class="cY"/><text x="453" y="356" font-size="18">diagnose</text></g>
<g id="n-date"><circle cx="250" cy="380" r="7" class="cG"/><text x="247" y="384" font-size="20">date</text></g>
<g id="n-tax"><circle cx="478" cy="524" r="7" class="cS"/><text x="478" y="528" font-size="18">tax</text></g>
<g id="n-bank"><circle cx="447" cy="540" r="7" class="cS"/><text x="447" y="545" font-size="18">bank</text></g>
<g id="n-pp"><circle cx="487" cy="572" r="7" class="cD"/><text x="487" y="576" font-size="16">pp</text></g>
<g id="n-map"><circle cx="478" cy="322" r="6" class="cS"/><text x="478" y="326" font-size="20">map</text></g>
<g id="n-sale"><circle cx="447" cy="282" r="6" class="cB"/><text x="447" y="289" font-size="20">sale</text></g>
<g id="n-best"><circle cx="378" cy="390" r="6" class="cO"/><text x="378" y="396" font-size="22">best</text></g>
<g id="n-word"><circle cx="357" cy="420" r="6" class="cT"/><text x="357" y="424" font-size="22">word</text></g>
<g id="n-game"><circle cx="341" cy="462" r="6" class="cT"/><text x="341" y="463" font-size="18">game</text></g>
<g id="n-book"><circle cx="293" cy="448" r="6" class="cO"/><text x="310" y="452" font-size="17">book</text></g>
<g id="n-rate"><circle cx="372" cy="636" r="6" class="cS"/><text x="372" y="638" font-size="17">rate</text></g>
<g id="n-school"><circle cx="628" cy="355" r="6" class="cP"/><text x="628" y="357" font-size="16">school</text></g>
<g id="n-drive"><circle cx="582" cy="372" r="6" class="cP"/><text x="582" y="375" font-size="17">drive</text></g>
<g id="n-hour"><circle cx="362" cy="350" r="6" class="cP"/><text x="362" y="353" font-size="17">hour</text></g>
<g id="n-st"><circle cx="329" cy="352" r="6" class="cG"/><text x="329" y="357" font-size="18">st</text></g>
<g id="n-causing"><circle cx="325" cy="258" r="6" class="cG"/><text x="325" y="263" font-size="16">causing</text></g>
<g id="n-war"><circle cx="222" cy="262" r="6" class="cG"/><text x="222" y="268" font-size="18">war</text></g>
<g id="n-ohio"><circle cx="178" cy="310" r="6" class="cG"/><text x="174" y="317" font-size="18">ohio</text></g>
<g id="n-cincinnati"><circle cx="205" cy="322" r="6" class="cG"/><text x="205" y="327" font-size="16">cincinnati</text></g>
<g id="n-scotland"><circle cx="200" cy="390" r="6" class="cG"/><text x="198" y="393" font-size="16">scotland</text></g>
<g id="n-patrol"><circle cx="505" cy="215" r="6" class="cB"/><text x="511" y="220" font-size="17">patrol</text></g>
<g id="n-eye"><circle cx="392" cy="142" r="6" class="cP"/><text x="396" y="143" font-size="16">eye</text></g>
<g id="n-way"><circle cx="420" cy="130" r="6" class="cP"/><text x="420" y="133" font-size="15">way</text></g>
<g id="n-framed"><circle cx="420" cy="102" r="6" class="cP"/><text x="422" y="105" font-size="17">framed</text></g>
<g id="n-top"><circle cx="485" cy="393" r="5" class="cY"/><text x="485" y="397" font-size="18">top</text></g>
<g id="n-weight"><circle cx="533" cy="378" r="5" class="cP"/><text x="533" y="381" font-size="14">weight</text></g>
<g id="n-music"><circle cx="547" cy="400" r="5" class="cP"/><text x="547" y="402" font-size="15">music</text></g>
<g id="n-set"><circle cx="637" cy="434" r="5" class="cP"/><text x="637" y="438" font-size="17">set</text></g>
<g id="n-hand"><circle cx="539" cy="553" r="5" class="cR"/><text x="539" y="556" font-size="14">hand</text></g>
<g id="n-spring"><circle cx="245" cy="278" r="5" class="cG"/><text x="250" y="282" font-size="16">spring</text></g>
<g id="n-daniel"><circle cx="268" cy="280" r="5" class="cG"/><text x="272" y="282" font-size="16">daniel</text></g>
<g id="n-history"><circle cx="262" cy="300" r="5" class="cG"/><text x="259" y="305" font-size="15">history</text></g>
<g id="n-haverhill"><circle cx="218" cy="288" r="4" class="cG"/><text x="221" y="292" font-size="14">haverhill</text></g>
<g id="n-number"><circle cx="298" cy="391" r="5" class="cO"/><text x="298" y="392" font-size="16">number</text></g>
<g id="n-card"><circle cx="338" cy="485" r="5" class="cT"/><text x="338" y="487" font-size="17">card</text></g>
<g id="n-home"><circle cx="376" cy="506" r="5" class="cY"/><text x="376" y="510" font-size="18">home</text></g>
<g id="n-willard"><circle cx="428" cy="228" r="5" class="cY"/><text x="428" y="232" font-size="15">willard</text></g>
<g id="n-railroad"><circle cx="406" cy="232" r="5" class="cY"/><text x="406" y="235" font-size="15">railroad</text></g>
<g id="n-train"><circle cx="450" cy="244" r="5" class="cB"/><text x="450" y="247" font-size="15">train</text></g>
<g id="n-museum"><circle cx="403" cy="290" r="5" class="cY"/><text x="403" y="293" font-size="15">museum</text></g>
<g id="n-mexico"><circle cx="443" cy="265" r="4" class="cY"/><text x="443" y="267" font-size="14">mexico</text></g>
<g id="n-nyc"><circle cx="333" cy="158" r="4" class="cP"/><text x="335" y="161" font-size="12">nyc</text></g>
<g id="n-gave"><circle cx="410" cy="45" r="5" class="cP"/><text x="411" y="48" font-size="14">gave</text></g>
<g id="n-ragged"><circle cx="440" cy="57" r="5" class="cP"/><text x="447" y="53" font-size="14">ragged</text></g>
<g id="n-came"><circle cx="388" cy="64" r="5" class="cP"/><text x="396" y="67" font-size="14">came</text></g>
<g id="n-idaho"><circle cx="425" cy="67" r="5" class="cP"/><text x="424" y="67" font-size="14">idaho</text></g>
<g id="n-lift"><circle cx="375" cy="80" r="5" class="cP"/><text x="376" y="83" font-size="14">lift</text></g>
<g id="n-better"><circle cx="445" cy="82" r="5" class="cP"/><text x="447" y="80" font-size="14">better</text></g>
<g id="n-put"><circle cx="470" cy="72" r="5" class="cP"/><text x="471" y="73" font-size="14">put</text></g>
<g id="n-drawn"><circle cx="418" cy="88" r="5" class="cP"/><text x="427" y="90" font-size="15">drawn</text></g>
<g id="n-took"><circle cx="404" cy="95" r="5" class="cP"/><text x="405" y="95" font-size="13">took</text></g>
<g id="n-noise"><circle cx="438" cy="97" r="5" class="cP"/><text x="443" y="97" font-size="14">noise</text></g>
<g id="n-edited"><circle cx="465" cy="100" r="5" class="cP"/><text x="467" y="105" font-size="15">edited</text></g>
<g id="n-wolf"><circle cx="393" cy="110" r="5" class="cP"/><text x="396" y="113" font-size="16">wolf</text></g>
<g id="n-sarah"><circle cx="445" cy="118" r="5" class="cP"/><text x="445" y="122" font-size="15">sarah</text></g>
</g>
<g id="legend">
<circle cx="830" cy="250" r="21" fill="#000"/>
<line x1="831" y1="507" x2="829.5" y2="273" stroke="#444" stroke-width="1.2"/>
<path d="M825 281L829.5 273L834 281" fill="none" stroke="#444" stroke-width="1.2"/>
<circle cx="831" cy="507" r="3.5" fill="#000"/>
<text x="868" y="262" font-size="23" style="text-anchor:start">Degree: 81</text>
<text x="868" y="517" font-size="23" style="text-anchor:start">Degree: 5</text>
</g>
</svg>
